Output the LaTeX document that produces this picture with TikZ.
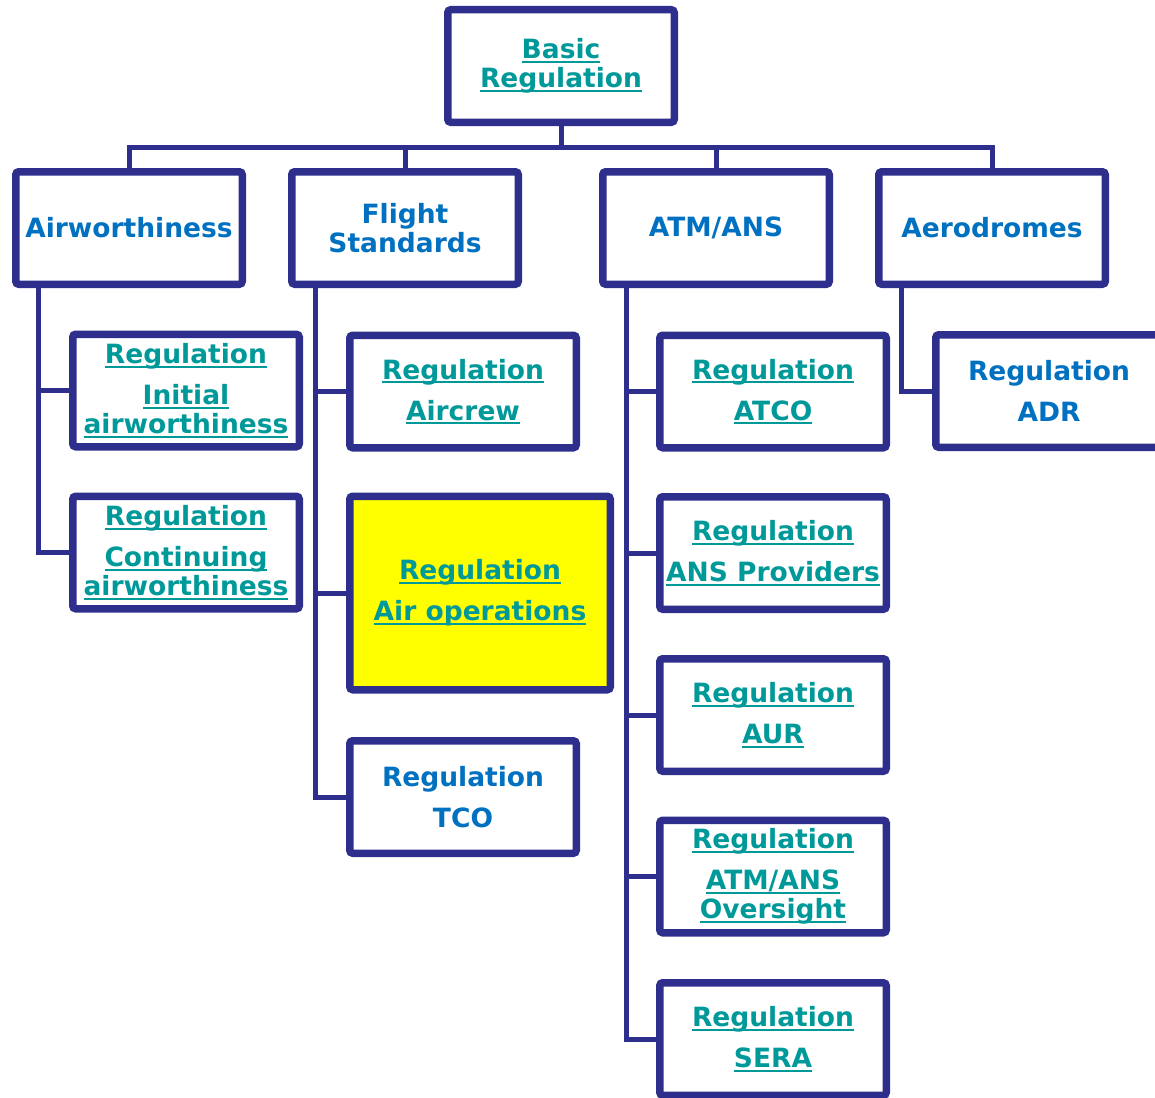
\documentclass[tikz,border=0pt]{standalone}
\usepackage{fontspec}
\setmainfont{DejaVu Sans}
\usetikzlibrary{shadows,backgrounds}

\definecolor{frame}{RGB}{46,47,140}
\definecolor{headblue}{RGB}{0,112,192}
\definecolor{linkteal}{RGB}{0,153,153}
\definecolor{hilite}{RGB}{255,255,0}

% underlined hyperlink-style label
\newsavebox\lnkbox
\newcommand\ulink[1]{\sbox\lnkbox{#1}\rlap{\rule[-4pt]{\wd\lnkbox}{2pt}}\usebox\lnkbox}

\tikzset{
  box/.style={draw=frame, line width=7.5pt, rounded corners=3pt, fill=white,
    minimum width=226.5pt, minimum height=112.5pt, align=center, inner sep=0pt,
    font=\bfseries\fontsize{26.5}{29}\selectfont,
    drop shadow={opacity=0.25, shadow xshift=2pt, shadow yshift=-3pt}},
  head/.style={box, text=headblue},
  link/.style={box, text=linkteal},
  conn/.style={draw=frame, line width=5pt},
}

\begin{document}
\begin{tikzpicture}[x=1pt, y=-1pt]
  \useasboundingbox (0,0) rectangle (1155,1097);
  \clip (0,0) rectangle (1155,1097);

  % top
  \node[link] (basic) at (561,66) {\ulink{Basic}\\\ulink{Regulation}};

  % domains
  \node[head] (aw)   at (129,228) {Airworthiness};
  \node[head] (fs)   at (405,228) {Flight\\Standards};
  \node[head] (atm)  at (716,228) {ATM/ANS};
  \node[head] (aero) at (992,228) {Aerodromes};

  % airworthiness
  \node[link] (init) at (186,390.5) {\ulink{Regulation}\\[12pt]\ulink{Initial}\\\ulink{airworthiness}};
  \node[link] (cont) at (186,552.5) {\ulink{Regulation}\\[12pt]\ulink{Continuing}\\\ulink{airworthiness}};

  % flight standards
  \node[link] (aircrew) at (463,391.5) {\ulink{Regulation}\\[12pt]\ulink{Aircrew}};
  \node[link, fill=hilite, minimum width=260.5pt, minimum height=193.5pt] (airops) at (480,593)
    {\ulink{Regulation}\\[12pt]\ulink{Air operations}};
  \node[head] (tco) at (463,797) {Regulation\\[12pt]TCO};

  % ATM/ANS
  \node[link] (atco) at (773,391.5) {\ulink{Regulation}\\[12pt]\ulink{ATCO}};
  \node[link] (ansp) at (773,553) {\ulink{Regulation}\\[12pt]\ulink{ANS Providers}};
  \node[link] (aur)  at (773,715) {\ulink{Regulation}\\[12pt]\ulink{AUR}};
  \node[link] (ovs)  at (773,876.5) {\ulink{Regulation}\\[12pt]\ulink{ATM/ANS}\\\ulink{Oversight}};
  \node[link] (sera) at (773,1039) {\ulink{Regulation}\\[12pt]\ulink{SERA}};

  % aerodromes
  \node[head] (adr) at (1049,391) {Regulation\\[12pt]ADR};

  % trunk origins below each domain box
  \coordinate (awT)   at (38,288);
  \coordinate (fsT)   at (315,288);
  \coordinate (atmT)  at (626,288);
  \coordinate (aeroT) at (901,288);
  \coordinate (bus)   at (0,147);

  \begin{scope}[on background layer]
    \draw[conn] (aw.north) -- (aw.north |- bus) -- (aero.north |- bus) -- (aero.north);
    \draw[conn] (basic.south) -- (basic.south |- bus);
    \draw[conn] (fs.north) -- (fs.north |- bus);
    \draw[conn] (atm.north) -- (atm.north |- bus);

    \draw[conn] (awT) |- (init.west);
    \draw[conn] (awT) |- (cont.west);

    \draw[conn] (fsT) |- (aircrew.west);
    \draw[conn] (fsT) |- (airops.west);
    \draw[conn] (fsT) |- (tco.west);

    \draw[conn] (atmT) |- (atco.west);
    \draw[conn] (atmT) |- (ansp.west);
    \draw[conn] (atmT) |- (aur.west);
    \draw[conn] (atmT) |- (ovs.west);
    \draw[conn] (atmT) |- (sera.west);

    \draw[conn] (aeroT) |- (adr.west);
  \end{scope}
\end{tikzpicture}
\end{document}
